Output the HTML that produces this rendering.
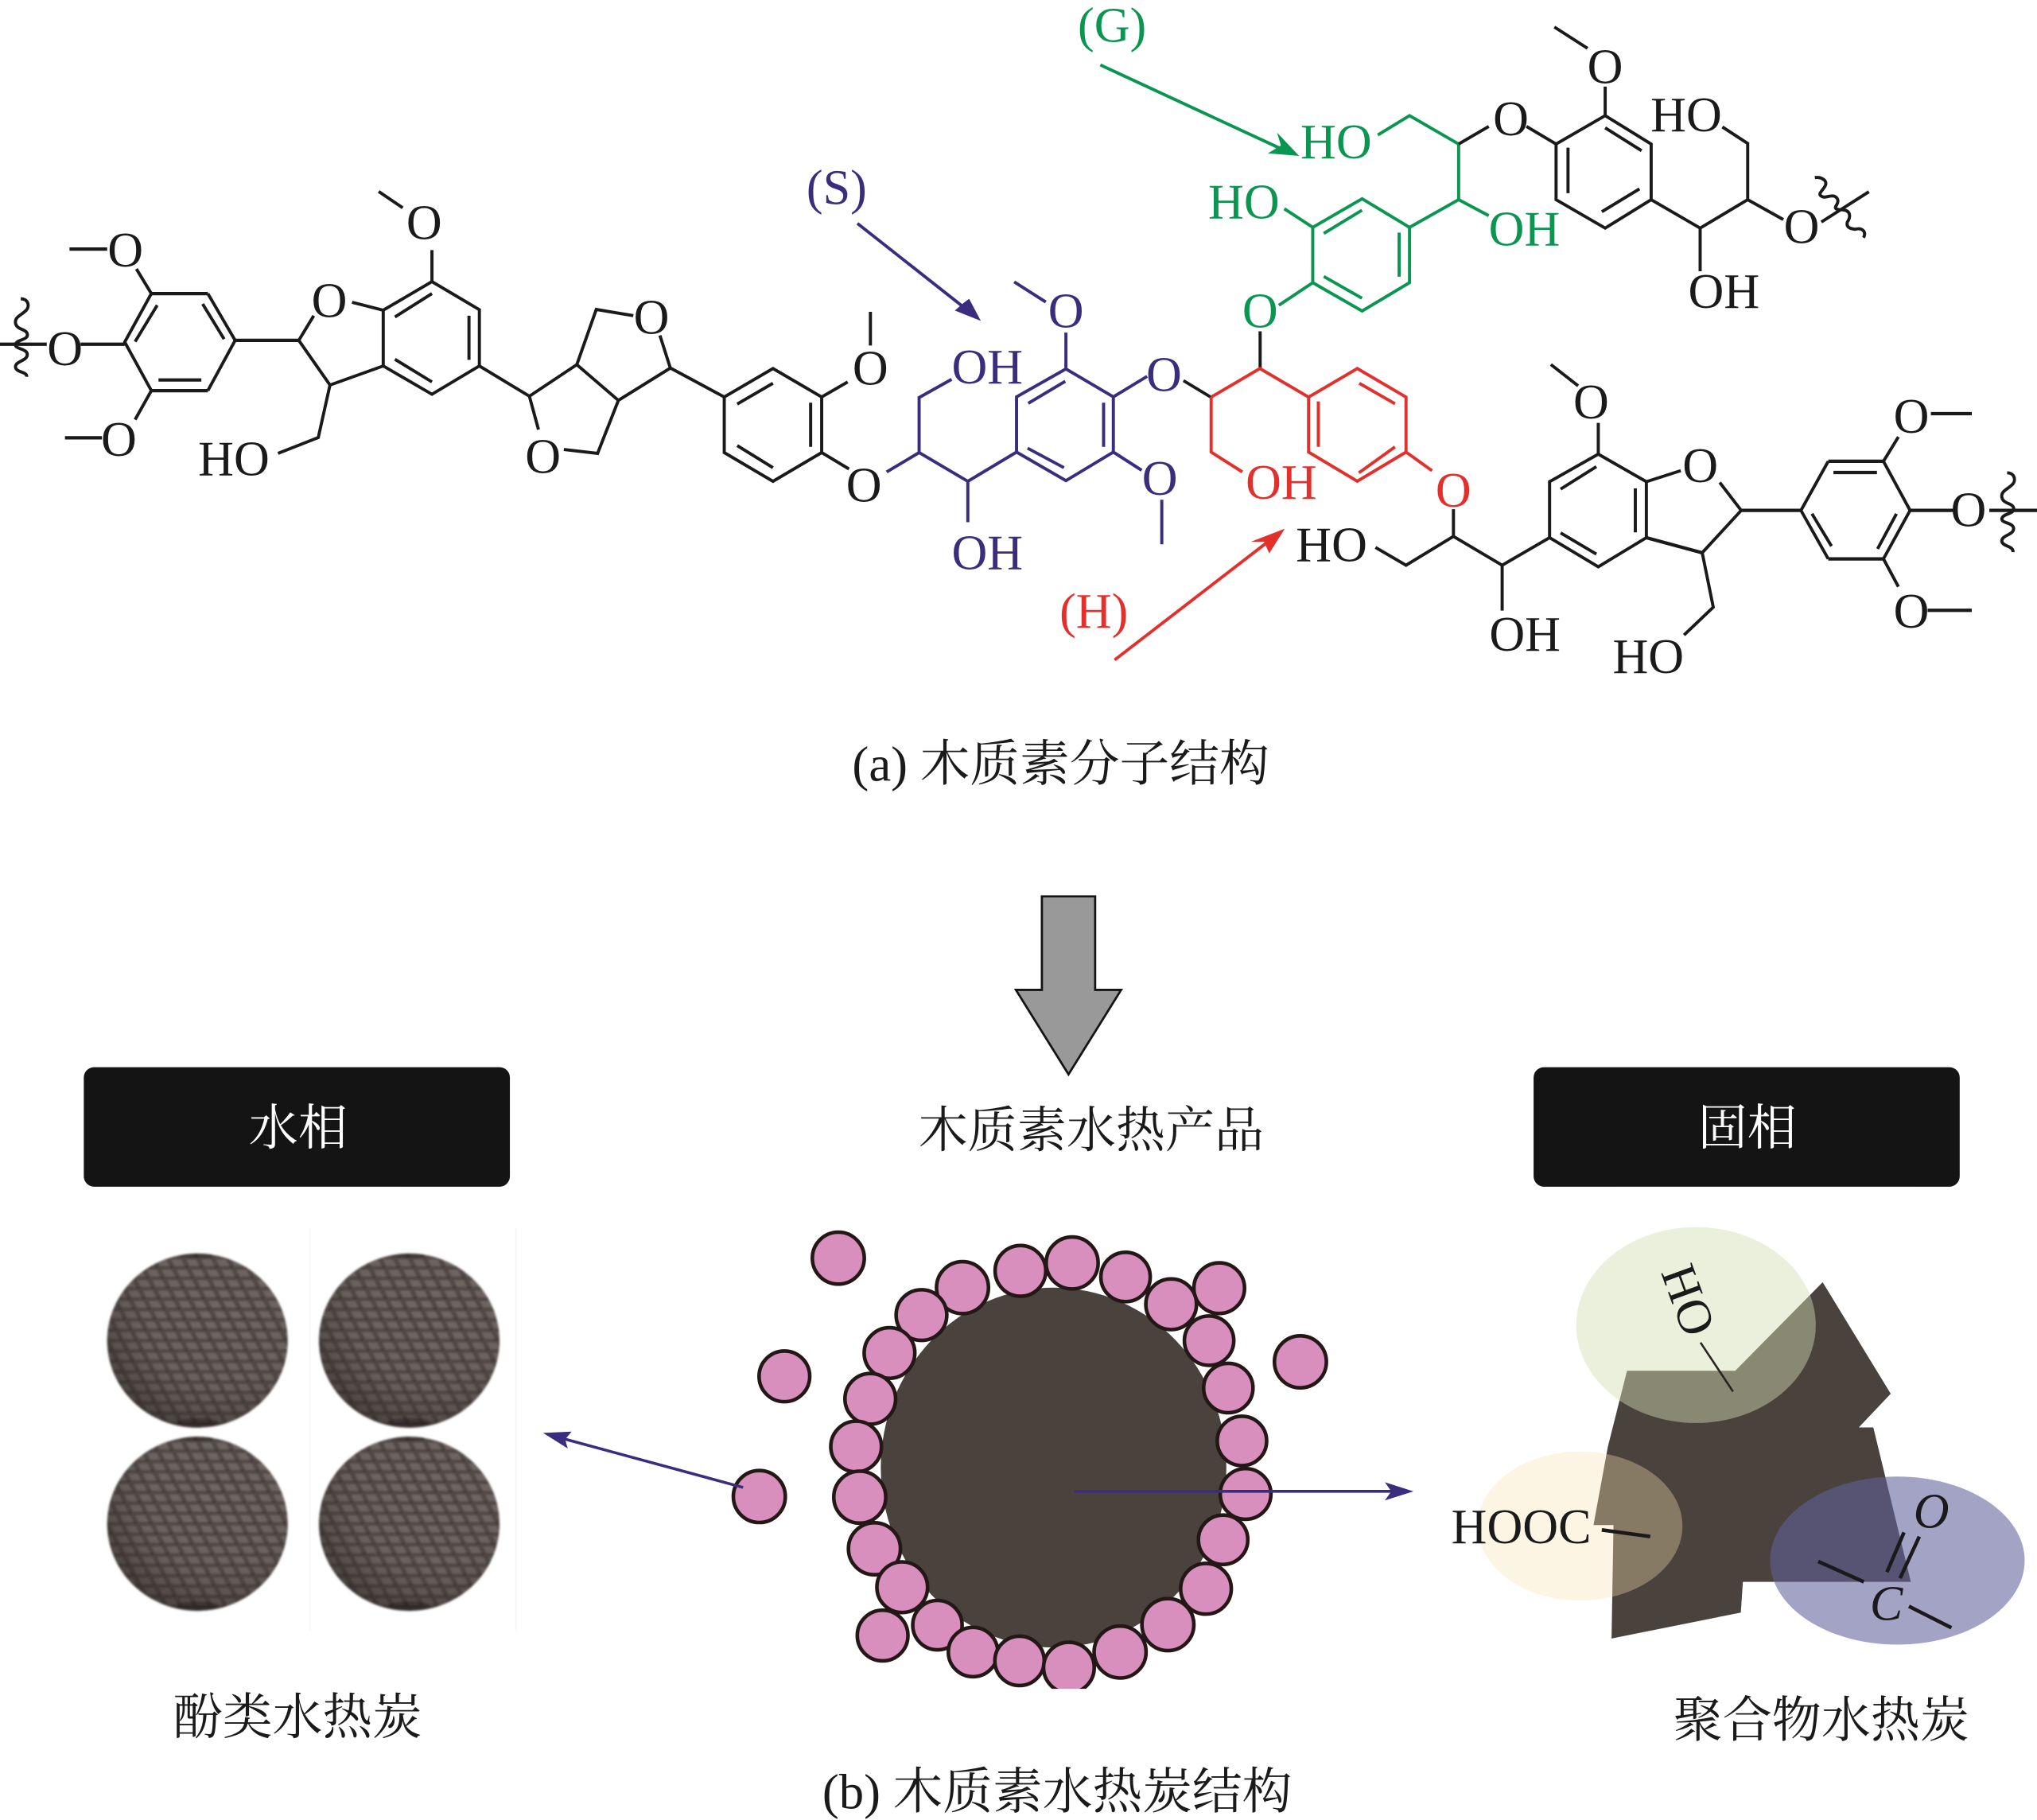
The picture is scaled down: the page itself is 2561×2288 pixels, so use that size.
<!DOCTYPE html>
<html><head><meta charset="utf-8"><style>
html,body{margin:0;padding:0;background:#fff}
svg{display:block}
text{font-family:"Liberation Serif","Noto Serif CJK SC",serif}
.k{stroke:#1a1a1a;stroke-width:2.4;fill:none;stroke-linejoin:miter}
.t{stroke:#1a1a1a;stroke-width:2.6;fill:none}
.p{stroke:#3b2c7d;stroke-width:2.4;fill:none}
.g{stroke:#0a9650;stroke-width:2.4;fill:none}
.r{stroke:#e2302d;stroke-width:2.4;fill:none}
.l{font-size:38px;text-anchor:middle}
.cap{font-size:38.4px}
.cap2{font-size:38px}
</style></head><body>
<svg xmlns="http://www.w3.org/2000/svg" width="2561" height="2288" viewBox="0 0 1568 1401" preserveAspectRatio="none">
<defs>
<pattern id="tex" width="11.500" height="8" patternUnits="userSpaceOnUse" patternTransform="skewX(28)">
<rect width="11.500" height="8" fill="#514845"/>
<rect x="1.500" y="1.500" width="7.500" height="5" fill="#6f6662"/>
<rect x="9" y="6.500" width="2.500" height="1.500" fill="#3e3633"/>
</pattern>
<radialGradient id="sh" cx="0.62" cy="0.32" r="0.85">
<stop offset="0" stop-color="#6d6360" stop-opacity="0"/>
<stop offset=".5" stop-color="#4a4240" stop-opacity=".1"/>
<stop offset="1" stop-color="#151110" stop-opacity=".72"/>
</radialGradient>
<filter id="bl" x="-10%" y="-10%" width="120%" height="120%"><feGaussianBlur stdDeviation="0.8"/></filter>
<g id="sp"><g filter="url(#bl)"><ellipse rx="69.500" ry="67" fill="url(#tex)"/><ellipse rx="69.500" ry="67" fill="url(#sh)"/><ellipse cx="0" cy="63" rx="16" ry="3.500" fill="#1e1a19" fill-opacity=".4"/><ellipse cx="0" cy="-65.500" rx="12" ry="1.800" fill="#1e1a19" fill-opacity=".45"/></g></g>
</defs>
<rect width="1568" height="1401" fill="#fff"/>

<!-- black bonds, left -->
<path class="t" d="M0 265H36M62 265H96M53.500 191.700H82.500M50 337H78.500M181 262H230M116.500 226H160M116.500 300.700H160M122 292.500H155"/>
<path class="k" d="M105 207L116.500 226L96 263.300L116.500 300.700L104 323M160 226L181 262L160 300.700M121 235L104 263M156 234L172.500 261"/>
<path class="k" d="M230 262L241.500 243M230 262L254 296.400L295 281.700M254 296.400L245 336.800L214 349M271 232.700L295 238.800"/>
<path class="k" d="M295 238.800L332.500 216.800L369 238.400V281.700L332.500 303.500L295 281.700ZM304 244L332.500 226M361 243V277M304 276.600L332.500 294M332.500 216.800V192.500M291.500 147.400L310 160"/>
<path class="k" d="M369 281.700L407.500 305L444 280.700L476 308.200L516 283.300M407.500 305L414.500 330.700M444 280.700L459 238.200L487.500 243M516 283.300L508 258.200M476 308.200L460 349L434 346M516 283.300L557.500 305.600"/>
<path class="k" d="M557.500 305.600L595 283.700L632.500 305.600V348.400L595 370.500L557.500 348.400ZM567.500 311L595 295M624 310V344M567.500 343L595 360M632.500 305.600L652.500 294M670 266V240M632.500 348.400L653.500 361"/>
<path class="k" d="M16 230C22 230 23 236 20 239C16 243 11 244 12 249C13 254 20 253 21 257C22 262 13 261 12 265C11 269 21 268 21 273C21 278 11 278 12 283C13 287 21 286 20.500 290"/>

<!-- purple -->
<path class="p" d="M682.500 363.300L707.500 348.400V306L732.500 292M707.500 348.400L745 370.500V402M745 370.500L782.500 348"/>
<path class="p" d="M782.500 305.500L820.500 284L857 305.500V348L820.500 370L782.500 348ZM791.500 310.500L820 293.500M849.500 310V344M791 345L819 360M820.500 284V256M780.700 217L805 232.500M857 305.500L883 289.700M857 348L878.800 362M894.300 384.700V419"/>

<!-- red + connecting black -->
<path class="k" d="M911 293L932 305.700M970 283.700V255"/>
<path class="r" d="M932.300 305.700L969.800 283.700L1007.300 305.700M932.300 305.700V348L956.300 363.300"/>
<path class="r" d="M1007.300 305.700L1044.800 283.700L1082.300 305.700V348L1044.800 370.400L1007.300 348ZM1046.300 295L1073.800 310.800M1014.800 309V344M1046 364L1073.800 344M1082.300 348L1102.300 362.300"/>

<!-- green -->
<path class="g" d="M1010.500 175L1048.500 153L1085 175V217.600L1048.500 239.400L1010.500 217.600ZM1019 179.700L1048.400 161.800M1077 179V213M1019 212.800L1048.400 229.600M988.600 160.700L1010.500 175M984.400 235L1010.500 217.600M1085 175L1122.800 153.700L1146 166M1122.800 153.700V110.900L1085 89L1060.600 103.900"/>

<!-- black top right -->
<path class="k" d="M1122.800 110.900L1146 97.300M1175 97.300L1197.800 110.900M1197.800 110.900L1235.600 89L1271 110.900V153.700L1235.600 175.600L1197.800 153.700ZM1235.600 98.400L1263.600 116M1207 113.700V148.700M1233 163L1262 145.400M1235.600 89V66.700M1196.500 20.800L1222 37.200M1325.800 97.700L1345.300 110.400V153.700L1308.700 175.600L1271 153.700M1308.700 175.600V208.800M1345.300 153.700L1372.700 169M1438.600 147.600L1402 170.900"/>
<path class="k" d="M1397 136.700C1402 136 1407 139 1405 143C1403 147 1399 149 1402 151C1405 153 1408 150 1412 151C1416 153 1415 156 1413 159C1412 162 1417 161 1421 162C1425 164 1424 168 1422 171C1421 175 1424 176 1428 176.500C1433 175 1437 178 1434.500 183"/>

<!-- black lower right -->
<path class="k" d="M1118.800 392V412.900L1082.300 435.100L1058.800 421.400M1118.800 412.900L1156.300 435.100V470M1156.300 435.100L1192.800 413.900"/>
<path class="k" d="M1192.800 370.800L1230.300 349.600L1267.300 370.800V413.900L1230.300 436.300L1192.800 413.900ZM1201.300 376.500L1228.800 359.200M1258.800 376V409.800M1201.300 410.200L1228.800 426.500M1230.300 349.600V325.500M1193.800 280.600L1214.800 297M1267.300 370.800L1293.800 362.300M1323.800 371.400L1340.300 392.900L1310.300 425.500L1318.800 467.400L1296.300 488.800"/>
<path class="t" d="M1340.300 392.900H1386.300M1267.300 413.900L1310.300 425.500M1407.300 355.100H1449.800M1407.300 430.200H1449.800M1411.300 363.700H1444.800M1470.300 392.900H1503.800M1531.300 392.900H1568M1486.300 318.400H1517.800M1483.800 469.800H1517.800"/>
<path class="k" d="M1407.300 355.100L1386.300 392.900L1407.300 430.200M1449.800 355.100L1470.300 392.900L1449.800 430.200M1394.800 395.500L1409.800 420.400M1459.800 395.500L1445.300 422.500M1449.800 355.100L1461.300 336.300M1449.800 430.200L1461.300 451.600"/>
<path class="k" d="M1545 364C1551 364 1552 370 1549 373C1545 377 1540 378 1541 383C1542 388 1549 387 1550 391C1551 396 1542 395 1541 399C1540 403 1550 402 1550 407C1550 412 1540 412 1541 417C1542 421 1550 420 1549.500 425"/>

<!-- black labels -->
<g class="l" fill="#1a1a1a">
<text x="50" y="281">O</text><text x="96.500" y="205">O</text><text x="91.500" y="351">O</text><text x="326.500" y="184">O</text><text x="253.500" y="244">O</text><text x="501.500" y="257">O</text><text x="418" y="364">O</text><text x="670" y="296">O</text><text x="665" y="386">O</text><text x="180" y="366">HO</text>
<text x="1163" y="104">O</text><text x="1235.600" y="64">O</text><text x="1298" y="101">HO</text><text x="1327" y="237">OH</text><text x="1386.800" y="187">O</text>
<text x="1025" y="432">HO</text><text x="1173.800" y="501">OH</text><text x="1224.800" y="322">O</text><text x="1308.800" y="371">O</text><text x="1268.800" y="518">HO</text><text x="1471.300" y="333">O</text><text x="1471.300" y="483">O</text><text x="1515.300" y="405">O</text>
</g>
<g class="l" fill="#3b2c7d"><text x="760" y="295">OH</text><text x="760" y="438">OH</text><text x="820.500" y="252">O</text><text x="896" y="301">O</text><text x="892.800" y="381">O</text><text x="644" y="157">(S)</text></g>
<g class="l" fill="#0a9650"><text x="1028.500" y="122">HO</text><text x="957.500" y="168">HO</text><text x="1173.400" y="189">OH</text><text x="970" y="252">O</text><text x="856" y="32">(G)</text></g>
<g class="l" fill="#e2302d"><text x="986.300" y="384">OH</text><text x="1118.800" y="390">O</text><text x="842" y="483">(H)</text></g>

<!-- pointers -->
<path d="M660 172L745 239" stroke="#3b2c7d" stroke-width="2.400" fill="none"/><path d="M755 247L735 239L742 233L746 230Z" fill="#3b2c7d"/>
<path d="M847 50L985 114" stroke="#0a9650" stroke-width="2.400" fill="none"/><path d="M1000 120L976 118L986 112L983 102Z" fill="#0a9650"/>
<path d="M858 508L976 417" stroke="#e2302d" stroke-width="2.400" fill="none"/><path d="M989 407L977 426L973 417L963 417Z" fill="#e2302d"/>

<text class="cap" x="656" y="601" fill="#1a1a1a">(a) 木质素分子结构</text>

<!-- big arrow -->
<path d="M802 690H843V762H863L822.500 827L782 762H802Z" fill="#999" stroke="#141414" stroke-width="1.700"/>

<!-- boxes -->
<rect x="64.500" y="821.500" width="328" height="92" rx="8" fill="#141414"/>
<rect x="1180.500" y="821.500" width="328" height="92" rx="8" fill="#141414"/>
<text class="l" x="229.500" y="881" fill="#fff">水相</text>
<text class="l" x="1345" y="881" fill="#fff">固相</text>
<text class="cap2" x="707" y="883" fill="#1a1a1a">木质素水热产品</text>

<!-- spheres -->
<path d="M238.500 945V1255M397 945V1255" stroke="#f7f5f3" stroke-width="1"/>
<use href="#sp" x="152" y="1032"/><use href="#sp" x="315" y="1032"/><use href="#sp" x="152" y="1173"/><use href="#sp" x="315" y="1173"/>

<!-- centre particle -->
<ellipse cx="811" cy="1129.700" rx="133" ry="138.500" fill="#4a423d"/>
<g fill="#d88fbd" stroke="#231815" stroke-width="2.800">
<circle cx="645.300" cy="968.500" r="20"/><circle cx="603.800" cy="1059.500" r="19.500"/><circle cx="584.500" cy="1152" r="20"/><circle cx="1001" cy="1048.300" r="20"/>
<circle cx="740.900" cy="991.200" r="20"/><circle cx="709.300" cy="1012.300" r="19.500"/><circle cx="684.700" cy="1041.500" r="19.500"/><circle cx="669.900" cy="1076.800" r="19.500"/><circle cx="659" cy="1113.500" r="19.500"/><circle cx="661.800" cy="1152.500" r="20"/><circle cx="673.100" cy="1192.200" r="20"/><circle cx="694.500" cy="1221.800" r="19.500"/><circle cx="679.400" cy="1259" r="19.500"/><circle cx="721.600" cy="1251" r="19"/><circle cx="749" cy="1271.700" r="19"/><circle cx="784.800" cy="1278.500" r="19"/><circle cx="822.800" cy="1283.700" r="19.500"/><circle cx="862.200" cy="1271.700" r="20"/><circle cx="899" cy="1250.600" r="20"/><circle cx="928.300" cy="1223" r="19.500"/><circle cx="941.500" cy="1185.300" r="19"/><circle cx="958.800" cy="1150" r="19.500"/><circle cx="956" cy="1109.200" r="19"/><circle cx="945.500" cy="1068.500" r="19"/><circle cx="930.700" cy="1032" r="19"/><circle cx="938.500" cy="991.600" r="19.500"/><circle cx="901.500" cy="1004" r="19.500"/><circle cx="866.400" cy="983" r="19"/><circle cx="825.300" cy="972.200" r="20"/><circle cx="785.500" cy="978.300" r="19.500"/>
</g>
<rect x="780" y="1300" width="90" height="10" fill="#fff"/>
<path d="M572 1145L432 1107" stroke="#3b2c7d" stroke-width="2.200" fill="none"/><path d="M418 1103L440 1102L435 1108L437 1115Z" fill="#3b2c7d"/>
<path d="M827 1148H1075" stroke="#3b2c7d" stroke-width="2.200" fill="none"/><path d="M1088 1148L1066 1141L1071 1148L1066 1155Z" fill="#3b2c7d"/>

<!-- polymer char -->
<path d="M1403 987L1455.400 1072.900L1430.800 1098.800H1442L1470.900 1217.700H1341.600L1340 1241.300L1240.500 1261.300L1242 1174H1226.600L1237.600 1114L1252.400 1055.200H1335.700Z" fill="#4a423d"/>
<ellipse cx="1305.500" cy="1020" rx="92.200" ry="75.400" fill="rgb(211,222,179)" fill-opacity=".46"/>
<ellipse cx="1216.300" cy="1174.700" rx="78.800" ry="57.400" fill="rgb(249,226,175)" fill-opacity=".35"/>
<ellipse cx="1460.500" cy="1201.300" rx="98" ry="64.700" fill="rgb(96,98,155)" fill-opacity=".58"/>
<text class="l" x="1171" y="1188" fill="#1a1a1a">HOOC</text>
<text class="l" transform="translate(1299 1001) rotate(70)" x="0" y="12" fill="#1a1a1a">HO</text>
<text class="l" x="1486.700" y="1176" font-style="italic" fill="#1a1a1a">O</text>
<text class="l" x="1452" y="1247" font-style="italic" fill="#1a1a1a">C</text>
<path d="M1309 1033.500L1334 1071.200" stroke="#2a2522" stroke-width="1.600" fill="none"/>
<path d="M1233 1177.700L1270.300 1182.800M1465.600 1179.600L1452.500 1210.200M1477.400 1182.800L1462.600 1214.900M1399.600 1202L1434.700 1217.700M1469.400 1236.500L1502.100 1253" stroke="#1a1a1a" stroke-width="2.800" fill="none"/>

<text class="cap" x="133" y="1335" fill="#1a1a1a">酚类水热炭</text>
<text class="cap2" x="1288" y="1337" fill="#1a1a1a">聚合物水热炭</text>
<text class="cap" x="633" y="1392" fill="#1a1a1a">(b) 木质素水热炭结构</text>
</svg>
</body></html>
